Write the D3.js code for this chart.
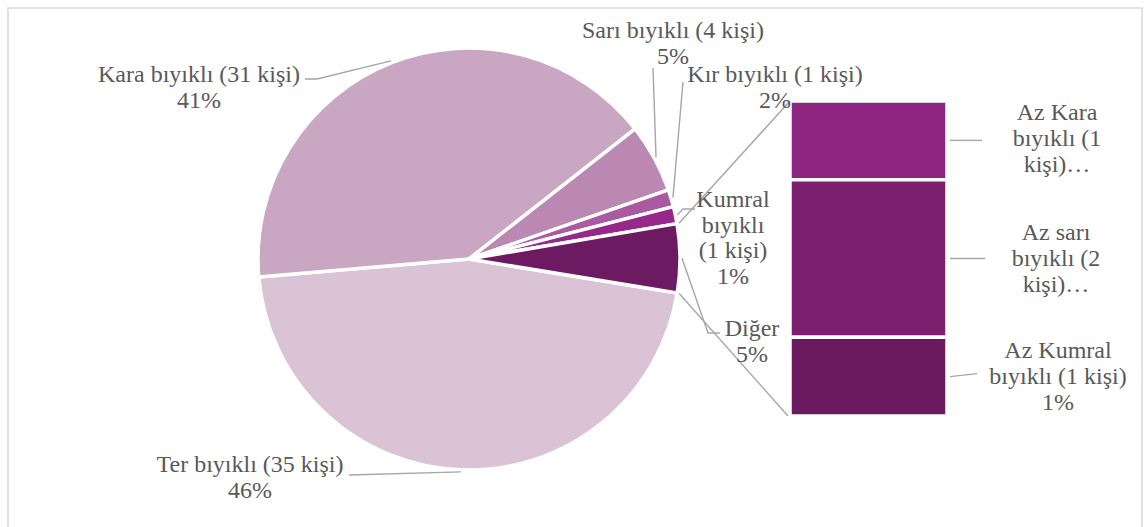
<!DOCTYPE html>
<html>
<head>
<meta charset="utf-8">
<script src="https://cdn.jsdelivr.net/npm/d3@7"></script>
<style>
  body { margin: 0; background: #fff; }
</style>
</head>
<body>
<svg id="chart" width="1144" height="527"></svg>
<script>
// pie slices (clockwise, starting with Ter)
var pieNames = ["Ter bıyıklı (35 kişi)", "Kara bıyıklı (31 kişi)", "Sarı bıyıklı (4 kişi)", "Kır bıyıklı (1 kişi)", "Kumral bıyıklı (1 kişi)", "Diğer"];
var pieCounts = [35, 31, 4, 1, 1, 4];
var piePercents = ["46%", "41%", "5%", "2%", "1%", "5%"];
var pieColors = ["#dbc3d6", "#c9a7c3", "#bb88b4", "#a95aa0", "#96278b", "#6c1a61"];

// bar of "Diğer", top to bottom
var barNames = ["Az Kara bıyıklı (1 kişi)", "Az sarı bıyıklı (2 kişi)", "Az Kumral bıyıklı (1 kişi)"];
var barCounts = [1, 2, 1];
var barColors = ["#8e2581", "#7d1f6f", "#6b1a60"];
// label text as Excel wraps it
var pieLabelLines = [
  ["Ter bıyıklı (35 kişi)", "46%"],
  ["Kara bıyıklı (31 kişi)", "41%"],
  ["Sarı bıyıklı (4 kişi)", "5%"],
  ["Kır bıyıklı (1 kişi)", "2%"],
  ["Kumral", "bıyıklı", "(1 kişi)", "1%"],
  ["Diğer", "5%"]
];
var barLabelLines = [
  ["Az Kara", "bıyıklı (1", "kişi)…"],
  ["Az sarı", "bıyıklı (2", "kişi)…"],
  ["Az Kumral", "bıyıklı (1 kişi)", "1%"]
];

var svg = d3.select("#chart");
var lineColor = "#a6a6a6";
var font = "'Liberation Serif', 'Times New Roman', Times, serif";

// chart frame
svg.append("rect")
  .attr("x", 8).attr("y", 8).attr("width", 1134).attr("height", 540)
  .attr("fill", "none").attr("stroke", "#d9d9d9").attr("stroke-width", 1.5);

var cx = 469, cy = 259, r = 211;
var start = 99.3 * Math.PI / 180;

var pie = d3.pie().sort(null).value(function(d) { return d; })
  .startAngle(start).endAngle(start + 2 * Math.PI);
var arcs = pie(pieCounts);
var arc = d3.arc().innerRadius(0).outerRadius(r);

var g = svg.append("g").attr("transform", "translate(" + cx + "," + cy + ")");
g.selectAll("path")
  .data(arcs)
  .join("path")
  .attr("d", arc)
  .attr("fill", function(d, i) { return pieColors[i]; })
  .attr("stroke", "#fff")
  .attr("stroke-width", 3.5)
  .attr("stroke-linejoin", "round");

function polar(a, rad) {
  return [cx + Math.sin(a) * rad, cy - Math.cos(a) * rad];
}

// bar
var barX = 790, barW = 157;
var y = d3.scaleLinear().domain([0, d3.sum(barCounts)]).range([101, 416]);
var cum = 0;
var barData = barCounts.map(function(v, i) {
  var d = { y0: cum, y1: cum + v, i: i };
  cum += v;
  return d;
});
svg.selectAll("rect.bar")
  .data(barData)
  .join("rect")
  .attr("class", "bar")
  .attr("x", barX)
  .attr("y", function(d) { return y(d.y0); })
  .attr("width", barW)
  .attr("height", function(d) { return y(d.y1) - y(d.y0); })
  .attr("fill", function(d) { return barColors[d.i]; })
  .attr("stroke", "#fff")
  .attr("stroke-width", 3.5);

// connector lines pie -> bar
var other = arcs[5];
var lines = svg.append("g").attr("fill", "none").attr("stroke", lineColor).attr("stroke-width", 1.4);
lines.append("line")
  .attr("x1", polar(other.startAngle, r + 2)[0]).attr("y1", polar(other.startAngle, r + 2)[1])
  .attr("x2", barX).attr("y2", y(0));
lines.append("line")
  .attr("x1", polar(other.endAngle, r + 2)[0]).attr("y1", polar(other.endAngle, r + 2)[1])
  .attr("x2", barX - 2).attr("y2", y(d3.sum(barCounts)));

// label placement (Excel layout)
var pieLabelPos = [
  { x: 250, y: 472, lead: [[349, 475]] },
  { x: 199, y: 82, lead: [[317, 79], [305, 79]] },
  { x: 673, y: 38, lead: [[653, 68]] },
  { x: 775, y: 82, lead: [[683, 82]] },
  { x: 733, y: 207, lead: [[683, 209], [695, 209]] },
  { x: 752, y: 336, lead: [[708, 333], [720, 333]] }
];
var lineGap = 25.5;

arcs.forEach(function(a, i) {
  var mid = (a.startAngle + a.endAngle) / 2;
  var pts = [polar(mid, r + 2)].concat(pieLabelPos[i].lead);
  lines.append("path").attr("d", d3.line()(pts));
});

var labels = svg.append("g")
  .attr("text-anchor", "middle")
  .attr("font-family", font)
  .attr("font-size", "24px")
  .attr("fill", "#595959");
pieLabelLines.forEach(function(ls, i) {
  var t = labels.append("text").style("font-family", font);
  ls.forEach(function(s, j) {
    t.append("tspan").attr("x", pieLabelPos[i].x).attr("y", pieLabelPos[i].y + j * lineGap).text(s);
  });
});

// bar labels
var barLabelX = [1057, 1056, 1058];
var barLabelY = [120, 240, 358];
var barLeadEnd = [[982, 0], [985, 0], [977, -3]];
barData.forEach(function(d, i) {
  var my = (y(d.y0) + y(d.y1)) / 2;
  lines.append("line")
    .attr("x1", barX + barW + 3).attr("y1", my)
    .attr("x2", barLeadEnd[i][0]).attr("y2", my + barLeadEnd[i][1]);
  var t = labels.append("text").style("font-family", font);
  barLabelLines[i].forEach(function(s, j) {
    t.append("tspan").attr("x", barLabelX[i]).attr("y", barLabelY[i] + j * 26).text(s);
  });
});
</script>
</body>
</html>
